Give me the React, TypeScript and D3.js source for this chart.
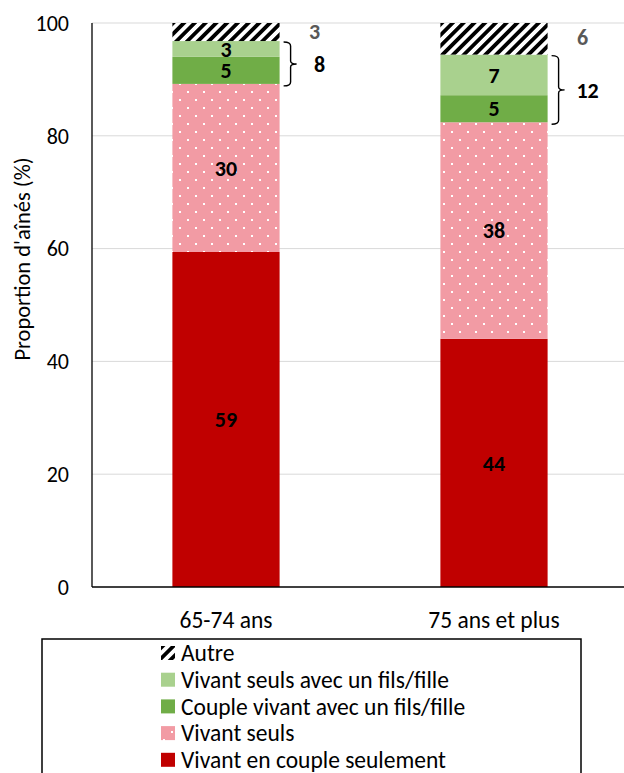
import * as d3 from 'd3';

const categories = ['65-74 ans', '75 ans et plus'];
const seriesNames = [
  'Vivant en couple seulement',
  'Vivant seuls',
  'Couple vivant avec un fils/fille',
  'Vivant seuls avec un fils/fille',
  'Autre',
];
const coupleSeulement = [59.4, 44.0];
const vivantSeuls = [29.8, 38.4];
const coupleAvecEnfant = [4.8, 4.8];
const seulAvecEnfant = [2.8, 7.2];
const autre = [3.2, 5.6];
const yTicks = [0, 20, 40, 60, 80, 100];

const FONT = 'Carlito, Calibri, Lato, sans-serif';
const W = 624;
const H = 773;
const margin = { top: 23, left: 92, bottom: 187 };

const fills = ['#C00000', 'url(#dots)', '#70AD47', '#A9D18E', 'url(#hatch)'];

export default function App() {
  const rows = categories.map((c, i) => ({
    cat: c,
    s0: coupleSeulement[i],
    s1: vivantSeuls[i],
    s2: coupleAvecEnfant[i],
    s3: seulAvecEnfant[i],
    s4: autre[i],
  }));
  const keys = ['s0', 's1', 's2', 's3', 's4'];
  const stacked = d3.stack<any>().keys(keys)(rows);

  const x = d3.scaleBand().domain(categories).range([margin.left, 628]).paddingInner(0.6).paddingOuter(0.3);
  const y = d3.scaleLinear().domain([0, 100]).range([H - margin.bottom + 1, margin.top]);
  const bw = x.bandwidth();

  return (
    <svg width={W} height={H} style={{ position: 'absolute', left: 0, top: 0 }} fontFamily={FONT}>
      <defs>
        <pattern id="hatch" width="7.6" height="7.6" patternUnits="userSpaceOnUse" patternTransform="rotate(45)">
          <rect width="7.6" height="7.6" fill="#fff" />
          <rect width="3.8" height="7.6" fill="#000" />
        </pattern>
        <pattern id="dots" width="16" height="16" patternUnits="userSpaceOnUse" x="2" y="2">
          <rect width="16" height="16" fill="#F29BA4" />
          <rect x="1" y="1" width="2" height="2" fill="#fff" />
          <rect x="9" y="9" width="2" height="2" fill="#fff" />
        </pattern>
      </defs>

      {/* grid */}
      {yTicks.filter(t => t > 0).map(t => (
        <line key={t} x1={margin.left} x2={W} y1={y(t)} y2={y(t)} stroke="#D9D9D9" strokeWidth={1} />
      ))}

      {/* bars */}
      {stacked.map((layer, k) => (
        <g key={k} fill={fills[k]}>
          {layer.map((d, i) => (
            <rect key={i} x={x(categories[i])} y={y(d[1])} width={bw} height={y(d[0]) - y(d[1])} />
          ))}
        </g>
      ))}

      {/* axes */}
      <line x1={margin.left} x2={margin.left} y1={y(100)} y2={y(0)} stroke="#000" strokeWidth={1.3} />
      <line x1={margin.left} x2={W} y1={y(0)} y2={y(0)} stroke="#000" strokeWidth={1.3} />
      {yTicks.map(t => (
        <text key={t} x={69} y={y(t)} dy="0.35em" textAnchor="end" fontSize={22} fill="#000">{t}</text>
      ))}
      {categories.map(c => (
        <text key={c} x={x(c)! + bw / 2} y={620} dy="0.35em" textAnchor="middle" fontSize={23.5} fill="#000">{c}</text>
      ))}
      <text transform={`translate(22,259) rotate(-90)`} textAnchor="middle" dy="0.35em" fontSize={22.5} fill="#000">
        Proportion d'aînés (%)
      </text>

      {/* value labels inside bars */}
      {stacked.slice(0, 4).map((layer, k) => (
        <g key={k}>
          {layer.map((d, i) => (
            <text key={i} x={x(categories[i])! + bw / 2} y={y((d[0] + d[1]) / 2)} dy="0.35em" textAnchor="middle"
              fontSize={22} fontWeight="bold" fill="#000">
              {Math.round(d[1] - d[0])}
            </text>
          ))}
        </g>
      ))}

      {/* autre labels */}
      {stacked[4].map((d, i) => (
        <text key={i} x={x(categories[i])! + bw + 35} y={y((d[0] + d[1]) / 2) - 1} dy="0.35em" textAnchor="middle"
          fontSize={22} fontWeight="bold" fill="#595959">
          {Math.round(d[1] - d[0])}
        </text>
      ))}

      {/* brackets over the two green segments */}
      {categories.map((c, i) => {
        const top = y(stacked[3][i][1]) + 1;
        const bot = y(stacked[2][i][0]) + 2;
        const mid = (top + bot) / 2;
        const x0 = x(c)! + bw + 4;
        const x1 = x0 + 7;
        const x2 = x1 + 6;
        const path = `M${x0},${top} Q${x1},${top} ${x1},${top + 4} L${x1},${mid - 3} Q${x1},${mid} ${x2},${mid} ` +
          `Q${x1},${mid} ${x1},${mid + 3} L${x1},${bot - 4} Q${x1},${bot} ${x0},${bot}`;
        const total = Math.round(stacked[3][i][1] - stacked[2][i][0]);
        return (
          <g key={c}>
            <path d={path} fill="none" stroke="#000" strokeWidth={1.4} />
            <text x={x2 + 23} y={mid} dy="0.35em" textAnchor="middle" fontSize={22} fontWeight="bold" fill="#000">
              {total}
            </text>
          </g>
        );
      })}

      {/* legend */}
      <rect x={42} y={639} width={539} height={150} fill="#fff" stroke="#000" strokeWidth={1.5} />
      {seriesNames.map((name, k) => {
        const idx = seriesNames.length - 1 - k;
        const cy = 653 + k * 26.7;
        return (
          <g key={name}>
            <rect x={161} y={cy - 7} width={14} height={14} fill={fills[idx]} />
            <text x={181} y={cy} dy="0.35em" fontSize={23.5} fill="#000">{seriesNames[idx]}</text>
          </g>
        );
      })}
    </svg>
  );
}
